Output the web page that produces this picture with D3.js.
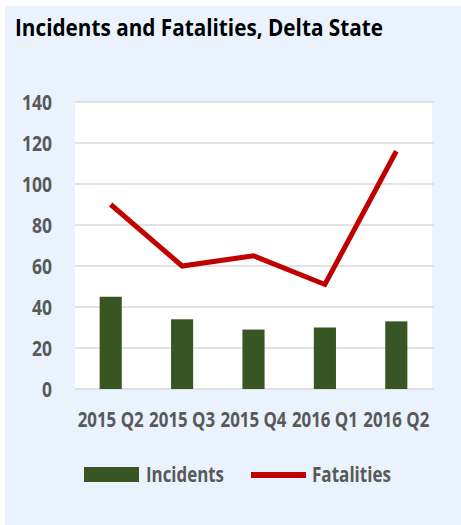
<!DOCTYPE html>
<html>
<head>
<meta charset="utf-8">
<script src="https://cdn.jsdelivr.net/npm/d3@7"></script>
<style>
  body { margin: 0; background: #fff; }
  text { font-family: "Open Sans", sans-serif; font-weight: bold; }
</style>
</head>
<body>
<div id="chart-area"></div>
<script>
const quarters = ["2015 Q2", "2015 Q3", "2015 Q4", "2016 Q1", "2016 Q2"];
const incidents = [45, 34, 29, 30, 33];
const fatalities = [90, 60, 65, 51, 116];
const yTicks = [0, 20, 40, 60, 80, 100, 120, 140];

const width = 461;
const height = 525;
const plot = { left: 75, right: 432, top: 102, bottom: 389 };

const svg = d3.select("#chart-area")
    .append("svg")
    .attr("width", width)
    .attr("height", height);

// squeeze a text to a given width (the original font is a condensed face)
function squeeze(sel, w) {
    sel.attr("textLength", w).attr("lengthAdjust", "spacingAndGlyphs");
}

// panel background
svg.append("rect")
    .attr("x", 5).attr("y", 6)
    .attr("width", width - 5).attr("height", height - 6)
    .attr("fill", "#eaf3fd");

svg.append("text")
    .attr("x", 15).attr("y", 36)
    .attr("font-size", 24)
    .attr("fill", "#000")
    .text("Incidents and Fatalities, Delta State")
    .call(squeeze, 368);

svg.append("rect")
    .attr("x", plot.left).attr("y", plot.top)
    .attr("width", plot.right - plot.left).attr("height", plot.bottom - plot.top)
    .attr("fill", "#fff");

const x = d3.scaleBand()
    .domain(quarters)
    .range([plot.left, plot.right])
    .paddingInner(0.69)
    .paddingOuter(0.345);

const xc = d => x(d) + x.bandwidth() / 2;

const y = d3.scaleLinear()
    .domain([0, 140])
    .range([plot.bottom, plot.top]);

// gridlines
svg.append("g")
    .selectAll("line")
    .data(yTicks)
    .join("line")
    .attr("x1", plot.left).attr("x2", plot.right + 2)
    .attr("y1", d => y(d)).attr("y2", d => y(d))
    .attr("stroke", "#d9d9d9")
    .attr("stroke-width", 1.5);

// y axis labels
const yAxis = svg.append("g")
    .attr("transform", `translate(${plot.left - 23},0)`)
    .call(d3.axisLeft(y).tickValues(yTicks).tickSize(0).tickPadding(0));
yAxis.select(".domain").remove();
yAxis.selectAll("text")
    .attr("font-size", 21)
    .attr("fill", "#595959")
    .attr("font-family", null)
    .attr("dy", "0.34em")
    .each(function(d) { d3.select(this).call(squeeze, String(d).length * 10); });

// x axis labels, narrowed with a horizontal scale so they fit side by side
const xAxis = svg.append("g")
    .attr("transform", `translate(0,${plot.bottom})`)
    .call(d3.axisBottom(x).tickSize(0).tickPadding(23));
xAxis.select(".domain").remove();
xAxis.selectAll("text")
    .attr("font-size", 21)
    .attr("fill", "#595959")
    .attr("font-family", null)
    .each(function() {
        const w = this.getComputedTextLength();
        d3.select(this).attr("transform", `scale(${66 / w},1)`);
    });

// bars
svg.append("g")
    .selectAll("rect")
    .data(incidents)
    .join("rect")
    .attr("x", (d, i) => x(quarters[i]))
    .attr("width", x.bandwidth())
    .attr("y", d => y(d))
    .attr("height", d => y(0) - y(d))
    .attr("fill", "#375623");

// line
const line = d3.line()
    .x((d, i) => xc(quarters[i]))
    .y(d => y(d));

svg.append("path")
    .datum(fatalities)
    .attr("d", line)
    .attr("fill", "none")
    .attr("stroke", "#c00000")
    .attr("stroke-width", 5)
    .attr("stroke-linejoin", "miter");

// legend
const legend = svg.append("g");
legend.append("rect")
    .attr("x", 84).attr("y", 467)
    .attr("width", 55).attr("height", 15)
    .attr("fill", "#375623");
legend.append("text")
    .attr("x", 146).attr("y", 482)
    .attr("font-size", 22)
    .attr("fill", "#595959")
    .text("Incidents")
    .call(squeeze, 78);
legend.append("line")
    .attr("x1", 251).attr("x2", 306)
    .attr("y1", 475).attr("y2", 475)
    .attr("stroke", "#c00000")
    .attr("stroke-width", 6);
legend.append("text")
    .attr("x", 312).attr("y", 482)
    .attr("font-size", 22)
    .attr("fill", "#595959")
    .text("Fatalities")
    .call(squeeze, 79);
</script>
</body>
</html>
